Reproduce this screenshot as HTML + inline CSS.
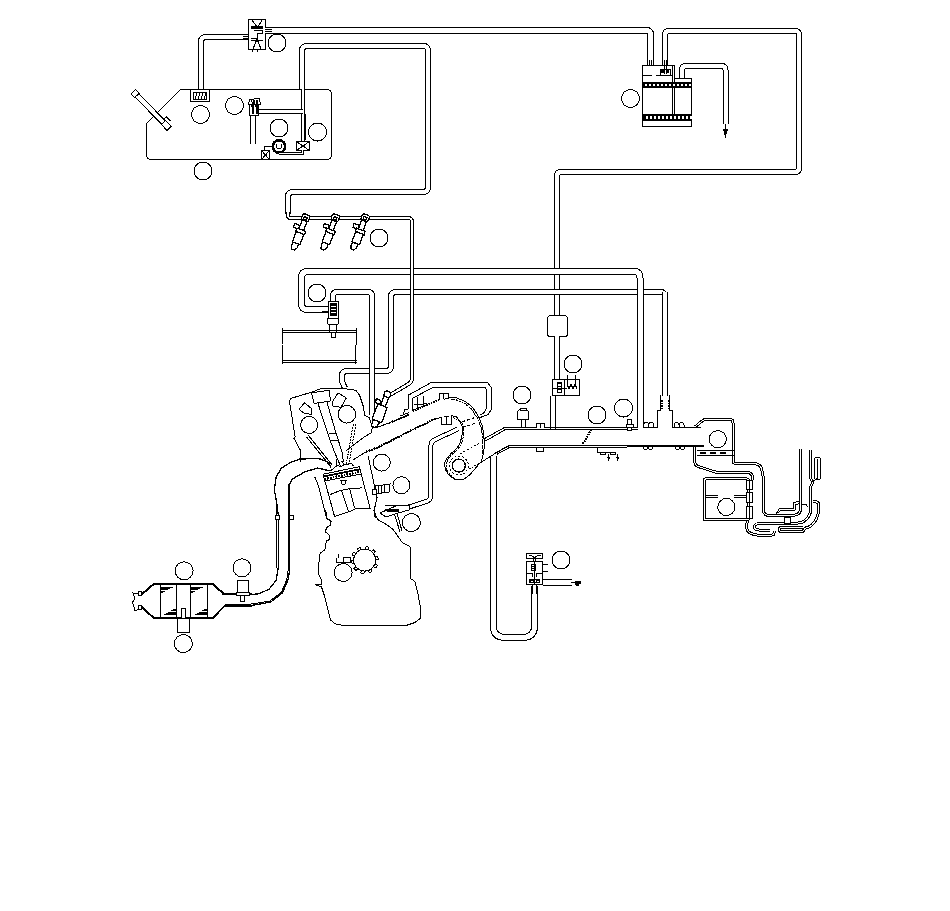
<!DOCTYPE html>
<html><head><meta charset="utf-8"><style>
html,body{margin:0;padding:0;background:#fff;width:950px;height:911px;overflow:hidden}
svg{display:block}
.k{fill:none;stroke:#000}
</style></head><body>
<svg shape-rendering="crispEdges" width="950" height="911" viewBox="0 0 950 911">
<path d="M180.5,89.5 L326.5,89.5 Q331.5,89.5 331.5,94.5 L331.5,154.5 Q331.5,159.5 326.5,159.5 L151.5,159.5 Q146.5,159.5 146.5,154.5 L146.5,123.5 L180.5,89.5 Z" fill="#fff" stroke="#000" stroke-width="1"/>
<g transform="translate(135.5,94) rotate(-44.5)"><rect x="-2.5" y="0" width="5" height="46" fill="#fff" stroke="#000"/><rect x="-3" y="-3" width="6" height="5" fill="#fff" stroke="#000"/><path d="M-3,40 h6 v8 h-6 z M3,38 h3 v6" fill="#fff" stroke="#000"/></g>
<path d="M201,90 L201.00,42.00 Q201,37 206.00,37.00 L248,37" fill="none" stroke="#000" stroke-width="6" stroke-linecap="butt"/>
<path d="M201,90 L201.00,42.00 Q201,37 206.00,37.00 L248,37" fill="none" stroke="#fff" stroke-width="4" stroke-linecap="butt"/>
<rect x="190.5" y="89.5" width="19" height="12" rx="0" fill="#fff" stroke="#000" stroke-width="1"/>
<rect x="193.5" y="92.5" width="13" height="7" rx="0" fill="#fff" stroke="#000" stroke-width="1"/>
<path d="M197,93 L195,99" class="k" stroke-width="1"/>
<path d="M200,93 L198,99" class="k" stroke-width="1"/>
<path d="M203,93 L201,99" class="k" stroke-width="1"/>
<path d="M206,93 L204,99" class="k" stroke-width="1"/>
<rect x="248.5" y="19.5" width="17" height="30" rx="0" fill="#fff" stroke="#000" stroke-width="1"/>
<path d="M252,20 L257,27 M262,20 L258,27 M253,49 L257,39 L261,49 M251,38 h6 v-5 h5 v-3 h-8" fill="none" stroke="#000" stroke-width="1"/>
<rect x="251" y="26" width="12" height="3" fill="#000"/>
<path d="M251,40.5 h12" fill="none" stroke="#000" stroke-width="1"/>
<path d="M252,49 v3 M257,49 v3" fill="none" stroke="#000" stroke-width="1"/>
<path d="M243,36.5 L248,36.5" class="k" stroke-width="1"/>
<path d="M243,38.5 L248,38.5" class="k" stroke-width="1"/>
<path d="M265,29.5 L272,29.5" class="k" stroke-width="1"/>
<path d="M265,31.5 L272,31.5" class="k" stroke-width="1"/>
<path d="M265,30.5 L646.50,30.50 Q650.5,30.5 650.50,34.50 L650.5,66" fill="none" stroke="#000" stroke-width="7" stroke-linecap="butt"/>
<path d="M265,30.5 L646.50,30.50 Q650.5,30.5 650.50,34.50 L650.5,66" fill="none" stroke="#fff" stroke-width="5" stroke-linecap="butt"/>
<path d="M265,29.5 L272,29.5" class="k" stroke-width="1"/>
<path d="M265,31.5 L272,31.5" class="k" stroke-width="1"/>
<path d="M302,89 L302.00,51.00 Q302,46 307.00,46.00 L423.00,46.00 Q428,46 428.00,51.00 L428.00,187.00 Q428,192 423.00,192.00 L293.00,192.00 Q288,192 288.00,197.00 L288,214" fill="none" stroke="#000" stroke-width="6" stroke-linecap="butt"/>
<path d="M302,89 L302.00,51.00 Q302,46 307.00,46.00 L423.00,46.00 Q428,46 428.00,51.00 L428.00,187.00 Q428,192 423.00,192.00 L293.00,192.00 Q288,192 288.00,197.00 L288,214" fill="none" stroke="#fff" stroke-width="4" stroke-linecap="butt"/>
<path d="M302.5,89 L302.5,141" fill="none" stroke="#000" stroke-width="4" stroke-linecap="butt"/>
<path d="M302.5,89 L302.5,141" fill="none" stroke="#fff" stroke-width="2" stroke-linecap="butt"/>
<path d="M256,111.5 L302.5,111.5" fill="none" stroke="#000" stroke-width="5" stroke-linecap="butt"/>
<path d="M256,111.5 L302.5,111.5" fill="none" stroke="#fff" stroke-width="3" stroke-linecap="butt"/>
<path d="M305.5,114 L305.5,140" class="k" stroke-width="1"/>
<g fill="#fff" stroke="#000"><path d="M248.5,104.5 L249.5,99.5 L259.5,98.5 L260.5,104.5 Z"/><rect x="249.5" y="104.5" width="9" height="11"/></g>
<path d="M251,100 l2,4 M254,100 v4 M257,100 v4 M251,106 h2 v8 M255,106 h2 v8" stroke="#000" fill="none" stroke-width="1.3"/>
<path d="M250.5,115 L250.5,144" class="k" stroke-width="1"/>
<path d="M255.5,115 L255.5,144" class="k" stroke-width="1"/>
<rect x="296.5" y="141.5" width="13" height="9" rx="0" fill="#fff" stroke="#000" stroke-width="1"/>
<path d="M296.5,141.5 L309.5,150.5" class="k" stroke-width="1"/>
<path d="M309.5,141.5 L296.5,150.5" class="k" stroke-width="1"/>
<rect x="261.5" y="150.5" width="8" height="9" rx="0" fill="#fff" stroke="#000" stroke-width="1"/>
<path d="M261.5,150.5 L269.5,159.5" class="k" stroke-width="1"/>
<path d="M269.5,150.5 L261.5,159.5" class="k" stroke-width="1"/>
<circle cx="279" cy="146.5" r="6.2" fill="#fff" stroke="#000" stroke-width="2.6"/>
<path d="M276.5,143.5 v3 a2.5,2.5 0 0 0 5,0 v-3" fill="none" stroke="#000"/>
<path d="M264.5,150 L264.5,146.5 L272,146.5" class="k" stroke-width="1"/>
<path d="M279,153 L302,153 L302,150" fill="none" stroke="#000" stroke-width="3" stroke-linecap="butt"/>
<path d="M279,153 L302,153 L302,150" fill="none" stroke="#fff" stroke-width="1" stroke-linecap="butt"/>
<circle cx="277" cy="43" r="9" fill="#fff" stroke="#000" stroke-width="1"/>
<circle cx="234.5" cy="105.5" r="9" fill="#fff" stroke="#000" stroke-width="1"/>
<circle cx="200.5" cy="114.5" r="9" fill="#fff" stroke="#000" stroke-width="1"/>
<circle cx="279" cy="128" r="9" fill="#fff" stroke="#000" stroke-width="1"/>
<circle cx="317.5" cy="132" r="9" fill="#fff" stroke="#000" stroke-width="1"/>
<circle cx="203" cy="171" r="9" fill="#fff" stroke="#000" stroke-width="1"/>
<path d="M665,66 L665.00,35.00 Q665,31 669.00,31.00 L795.00,31.00 Q799,31 799.00,35.00 L799.00,168.00 Q799,172 795.00,172.00 L561.00,172.00 Q557,172 557.00,176.00 L557,316" fill="none" stroke="#000" stroke-width="6" stroke-linecap="butt"/>
<path d="M665,66 L665.00,35.00 Q665,31 669.00,31.00 L795.00,31.00 Q799,31 799.00,35.00 L799.00,168.00 Q799,172 795.00,172.00 L561.00,172.00 Q557,172 557.00,176.00 L557,316" fill="none" stroke="#fff" stroke-width="4" stroke-linecap="butt"/>
<path d="M682,79 L682.00,70.00 Q682,66 686.00,66.00 L721.50,66.00 Q725.5,66 725.50,70.00 L725.5,124" fill="none" stroke="#000" stroke-width="6" stroke-linecap="butt"/>
<path d="M682,79 L682.00,70.00 Q682,66 686.00,66.00 L721.50,66.00 Q725.5,66 725.50,70.00 L725.5,124" fill="none" stroke="#fff" stroke-width="4" stroke-linecap="butt"/>
<path d="M725.5,124 L725.5,136" class="k" stroke-width="1"/>
<path d="M723.5,129.5 L727.5,129.5 L725.5,136 Z" fill="#000" stroke="#000" stroke-width="1"/>
<path d="M642.5,65.5 H674.5 V78.5 H691.5 V126.5 H642.5 Z" fill="#fff" stroke="#000" stroke-width="1"/>
<path d="M672.5,66 L672.5,114" class="k" stroke-width="1"/>
<path d="M674.5,78 L674.5,114" class="k" stroke-width="1"/>
<path d="M643,75.5 L652,75.5" class="k" stroke-width="1"/>
<path d="M656,75.5 L672,75.5" class="k" stroke-width="1"/>
<rect x="643" y="82" width="48" height="6" fill="#000"/>
<rect x="643" y="114" width="48" height="7" fill="#000"/>
<rect x="645" y="84" width="1.5" height="2" fill="#fff"/>
<rect x="646" y="116" width="1.5" height="3" fill="#fff"/>
<rect x="649" y="84" width="1.5" height="2" fill="#fff"/>
<rect x="650" y="116" width="1.5" height="3" fill="#fff"/>
<rect x="653" y="84" width="1.5" height="2" fill="#fff"/>
<rect x="654" y="116" width="1.5" height="3" fill="#fff"/>
<rect x="657" y="84" width="1.5" height="2" fill="#fff"/>
<rect x="658" y="116" width="1.5" height="3" fill="#fff"/>
<rect x="661" y="84" width="1.5" height="2" fill="#fff"/>
<rect x="662" y="116" width="1.5" height="3" fill="#fff"/>
<rect x="665" y="84" width="1.5" height="2" fill="#fff"/>
<rect x="666" y="116" width="1.5" height="3" fill="#fff"/>
<rect x="669" y="84" width="1.5" height="2" fill="#fff"/>
<rect x="670" y="116" width="1.5" height="3" fill="#fff"/>
<rect x="673" y="84" width="1.5" height="2" fill="#fff"/>
<rect x="674" y="116" width="1.5" height="3" fill="#fff"/>
<rect x="677" y="84" width="1.5" height="2" fill="#fff"/>
<rect x="678" y="116" width="1.5" height="3" fill="#fff"/>
<rect x="681" y="84" width="1.5" height="2" fill="#fff"/>
<rect x="682" y="116" width="1.5" height="3" fill="#fff"/>
<rect x="685" y="84" width="1.5" height="2" fill="#fff"/>
<rect x="686" y="116" width="1.5" height="3" fill="#fff"/>
<rect x="689" y="84" width="1.5" height="2" fill="#fff"/>
<rect x="690" y="116" width="1.5" height="3" fill="#fff"/>
<rect x="660" y="69" width="10" height="6" fill="#fff" stroke="#000"/>
<rect x="661" y="70" width="3" height="3" fill="#000"/><rect x="666" y="70" width="3" height="3" fill="#000"/>
<path d="M649.5,60 L649.5,66" class="k" stroke-width="1"/>
<path d="M651.5,60 L651.5,66" class="k" stroke-width="1"/>
<path d="M664.5,60 L664.5,74" class="k" stroke-width="1"/>
<path d="M666.5,60 L666.5,74" class="k" stroke-width="1"/>
<circle cx="630.5" cy="98.5" r="9" fill="#fff" stroke="#000" stroke-width="1"/>
<circle cx="379" cy="238" r="9" fill="#fff" stroke="#000" stroke-width="1"/>
<path d="M665,396 L665.00,297.00 Q665,292 660.00,292.00 L396.00,292.00 Q391,292 391.00,297.00 L391.00,366.00 Q391,371 386.00,371.00 L347.00,371.00 Q342,371 342.00,376.00 L342.00,378.65 Q342,382 343.50,385.00 L345,388" fill="none" stroke="#000" stroke-width="6" stroke-linecap="butt"/>
<path d="M665,396 L665.00,297.00 Q665,292 660.00,292.00 L396.00,292.00 Q391,292 391.00,297.00 L391.00,366.00 Q391,371 386.00,371.00 L347.00,371.00 Q342,371 342.00,376.00 L342.00,378.65 Q342,382 343.50,385.00 L345,388" fill="none" stroke="#fff" stroke-width="4" stroke-linecap="butt"/>
<path d="M333,302 L333.00,296.50 Q333,291.5 338.00,291.50 L367.00,291.50 Q372,291.5 372.00,296.50 L372,415" fill="none" stroke="#000" stroke-width="6" stroke-linecap="butt"/>
<path d="M333,302 L333.00,296.50 Q333,291.5 338.00,291.50 L367.00,291.50 Q372,291.5 372.00,296.50 L372,415" fill="none" stroke="#fff" stroke-width="4" stroke-linecap="butt"/>
<path d="M328,309.5 L307.50,309.50 Q301.5,309.5 301.50,303.50 L301.50,277.50 Q301.5,271.5 307.50,271.50 L634.00,271.50 Q640,271.5 640.00,277.50 L640,428" fill="none" stroke="#000" stroke-width="7" stroke-linecap="butt"/>
<path d="M328,309.5 L307.50,309.50 Q301.5,309.5 301.50,303.50 L301.50,277.50 Q301.5,271.5 307.50,271.50 L634.00,271.50 Q640,271.5 640.00,277.50 L640,428" fill="none" stroke="#fff" stroke-width="5" stroke-linecap="butt"/>
<path d="M288,212 L288.00,215.00 Q288,218 291.00,218.00 L408.00,218.00 Q412,218 412.00,222.00 L412.00,378.00 Q412,382 408.56,384.03 L390,395" fill="none" stroke="#000" stroke-width="4" stroke-linecap="butt"/>
<path d="M288,212 L288.00,215.00 Q288,218 291.00,218.00 L408.00,218.00 Q412,218 412.00,222.00 L412.00,378.00 Q412,382 408.56,384.03 L390,395" fill="none" stroke="#fff" stroke-width="2" stroke-linecap="butt"/>
<g transform="translate(305.8,217.5) rotate(20.5)" fill="#fff" stroke="#000" stroke-width="1.3"><rect x="-2.5" y="3" width="5" height="10"/><rect x="-3.8" y="-3" width="7.6" height="6.5" rx="2"/><rect x="-1.5" y="-0.5" width="3" height="3"/><path d="M-8.5,9.5 L-3,9.5 L-2.5,13.5 L-8,13.5 Z"/><path d="M-4.5,13 L4.5,13 L5,16.5 L-4.5,16.5 Z"/><rect x="-4" y="16.5" width="8" height="11"/><path d="M-3.5,27.5 h6 v4 l-2,3 h-3 l-1,-3 z"/></g>
<g transform="translate(335.5,217.5) rotate(20.5)" fill="#fff" stroke="#000" stroke-width="1.3"><rect x="-2.5" y="3" width="5" height="10"/><rect x="-3.8" y="-3" width="7.6" height="6.5" rx="2"/><rect x="-1.5" y="-0.5" width="3" height="3"/><path d="M-8.5,9.5 L-3,9.5 L-2.5,13.5 L-8,13.5 Z"/><path d="M-4.5,13 L4.5,13 L5,16.5 L-4.5,16.5 Z"/><rect x="-4" y="16.5" width="8" height="11"/><path d="M-3.5,27.5 h6 v4 l-2,3 h-3 l-1,-3 z"/></g>
<g transform="translate(365.3,217.5) rotate(20.5)" fill="#fff" stroke="#000" stroke-width="1.3"><rect x="-2.5" y="3" width="5" height="10"/><rect x="-3.8" y="-3" width="7.6" height="6.5" rx="2"/><rect x="-1.5" y="-0.5" width="3" height="3"/><path d="M-8.5,9.5 L-3,9.5 L-2.5,13.5 L-8,13.5 Z"/><path d="M-4.5,13 L4.5,13 L5,16.5 L-4.5,16.5 Z"/><rect x="-4" y="16.5" width="8" height="11"/><path d="M-3.5,27.5 h6 v4 l-2,3 h-3 l-1,-3 z"/></g>
<g fill="#fff" stroke="#000"><rect x="328.5" y="301.5" width="10" height="17"/><rect x="330.5" y="303.5" width="6" height="12" fill="#000"/><path d="M327.5,318.5 h11 v5 l-1,1 h-9 l-1,-1 z"/><rect x="329.5" y="324.5" width="7" height="8"/><rect x="331.5" y="332.5" width="4" height="5"/></g>
<rect x="331" y="306" width="5" height="1" fill="#fff"/>
<rect x="331" y="309" width="5" height="1" fill="#fff"/>
<rect x="331" y="312" width="5" height="1" fill="#fff"/>
<path d="M322,306.5 L328,306.5" class="k" stroke-width="1"/>
<path d="M322,311.5 L328,311.5" class="k" stroke-width="1"/>
<circle cx="317" cy="293" r="9" fill="#fff" stroke="#000" stroke-width="1"/>
<path d="M282.5,330.5 L356.5,330.5 M282.5,332.5 L356.5,332.5 M282.5,360.5 L356.5,360.5 M282.5,362.5 L356.5,362.5" fill="none" stroke="#000" stroke-width="1"/>
<path d="M282.5,328 L282,345 L283,352 L282,364 M356,328 L356.5,340 L355.5,350 L356,364" fill="none" stroke="#000" stroke-width="1"/>
<rect x="547.5" y="315.5" width="20" height="21" rx="3" fill="#fff" stroke="#000"/>
<path d="M557,336 L557,380" fill="none" stroke="#000" stroke-width="6" stroke-linecap="butt"/>
<path d="M557,336 L557,380" fill="none" stroke="#fff" stroke-width="4" stroke-linecap="butt"/>
<g fill="#fff" stroke="#000"><rect x="552.5" y="379.5" width="12" height="16"/><rect x="564.5" y="379.5" width="15" height="16"/></g>
<rect x="557" y="382" width="5" height="11" fill="#000"/>
<rect x="558" y="384" width="3" height="1.5" fill="#fff"/>
<rect x="558" y="387" width="3" height="1.5" fill="#fff"/>
<rect x="558" y="390" width="3" height="1.5" fill="#fff"/>
<path d="M567.5,375 v12 M575.5,375 v12 M567,384 l2,5 l2,-5 l2,5 l2,-5 l2,5 M553,388.5 h14" fill="none" stroke="#000" stroke-width="1"/>
<path d="M550.5,396 L550.5,429" class="k" stroke-width="1"/>
<path d="M555.5,396 L555.5,429" class="k" stroke-width="1"/>
<circle cx="573" cy="364" r="9" fill="#fff" stroke="#000" stroke-width="1"/>
<circle cx="522" cy="395" r="9" fill="#fff" stroke="#000" stroke-width="1"/>
<circle cx="597" cy="415" r="9" fill="#fff" stroke="#000" stroke-width="1"/>
<circle cx="623.5" cy="408" r="9" fill="#fff" stroke="#000" stroke-width="1"/>
<path d="M325.6,510.0 L327.0,518.2 L331.1,521.0 L330.4,525.1 L326.3,527.8 L325.6,532.0 L329.7,535.4 L329.7,539.5 L326.3,540.9 L324.9,549.8 L320.1,553.2 L318.7,564.9 L318.7,574.5 L321.5,580.0 L321.5,584.1 L315.3,584.8 L321.5,586.9 L324.2,595.1 L329.0,614.3 L330.4,619.8 L335.2,623.9 L342.1,625.3 L406.6,625.3 L414.8,622.6 L420.3,618.4 L420.3,606.1 L417.6,592.4 L414.8,581.4 L410.7,578.6 L410.7,553.9 L410.0,546.4 L402.5,542.9 L396.3,534.0 L392.9,529.2 L387.4,525.1 L377.8,519.6 L376.4,516.9 L373.6,510.0" fill="none" stroke="#000" stroke-width="1" stroke-linejoin="round"/>
<circle cx="364.7" cy="560.1" r="11" fill="none" stroke="#000"/>
<rect x="-1.5" y="-13.5" width="3" height="3" fill="#fff" stroke="#000" transform="translate(364.7,560.1) rotate(10.0)"/>
<rect x="-1.5" y="-13.5" width="3" height="3" fill="#fff" stroke="#000" transform="translate(364.7,560.1) rotate(46.0)"/>
<rect x="-1.5" y="-13.5" width="3" height="3" fill="#fff" stroke="#000" transform="translate(364.7,560.1) rotate(82.0)"/>
<rect x="-1.5" y="-13.5" width="3" height="3" fill="#fff" stroke="#000" transform="translate(364.7,560.1) rotate(118.0)"/>
<rect x="-1.5" y="-13.5" width="3" height="3" fill="#fff" stroke="#000" transform="translate(364.7,560.1) rotate(154.0)"/>
<rect x="-1.5" y="-13.5" width="3" height="3" fill="#fff" stroke="#000" transform="translate(364.7,560.1) rotate(190.0)"/>
<rect x="-1.5" y="-13.5" width="3" height="3" fill="#fff" stroke="#000" transform="translate(364.7,560.1) rotate(226.0)"/>
<rect x="-1.5" y="-13.5" width="3" height="3" fill="#fff" stroke="#000" transform="translate(364.7,560.1) rotate(262.0)"/>
<rect x="-1.5" y="-13.5" width="3" height="3" fill="#fff" stroke="#000" transform="translate(364.7,560.1) rotate(298.0)"/>
<rect x="-1.5" y="-13.5" width="3" height="3" fill="#fff" stroke="#000" transform="translate(364.7,560.1) rotate(334.0)"/>
<circle cx="364.7" cy="560.1" r="11" fill="#fff" stroke="#000"/>
<g fill="#fff" stroke="#000"><rect x="343.5" y="557.5" width="7" height="5"/><path d="M336.5,557.5 v5 h7 M338.5,554 v4"/></g>
<circle cx="343.2" cy="572.5" r="9" fill="#fff" stroke="#000" stroke-width="1"/>
<circle cx="411.4" cy="522.6" r="9" fill="#fff" stroke="#000" stroke-width="1"/>
<path d="M314.8,477.0 L318.2,485.2 L326.4,518.0 L327.8,519.4" fill="none" stroke="#000" stroke-width="1" stroke-linejoin="round"/>
<path d="M368.2,456.4 L374.3,485.2 L377.0,497.5 L374.3,509.8 L375.0,516.6 L378.4,519.4" fill="none" stroke="#000" stroke-width="1" stroke-linejoin="round"/>
<path d="M323.0,474.2 L359.3,466.7 L370.2,508.4 L356.5,508.4 L351.0,511.0 L334.6,516.6 Z" fill="#fff" stroke="#000" stroke-width="1" stroke-linejoin="round"/>
<path d="M323.7,476.5 L360.0,469.3" fill="none" stroke="#000" stroke-width="1.8" stroke-linejoin="round"/>
<path d="M324.5,479 L360.5,471.8" stroke="#000" stroke-width="2.2" stroke-dasharray="1.6,1.2" fill="none"/>
<path d="M324.8,481.0 L360.8,474.0" fill="none" stroke="#000" stroke-width="1" stroke-linejoin="round"/>
<path d="M330.5,471.0 L337.0,465.5 L341.0,466.5 L344.5,464.5 L351.5,463.5 L353.5,466.0" fill="none" stroke="#000" stroke-width="1" stroke-linejoin="round"/>
<path d="M337.0,465.5 L336.0,459.0" fill="none" stroke="#000" stroke-width="1" stroke-linejoin="round"/>
<path d="M344.5,464.5 L341.5,461.0" fill="none" stroke="#000" stroke-width="1" stroke-linejoin="round"/>
<path d="M329.8,494.7 L340.0,490.6 L349.7,488.6 L362.0,487.9" fill="none" stroke="#000" stroke-width="1" stroke-linejoin="round"/>
<path d="M341.5,490.6 L348.3,511.2" fill="none" stroke="#000" stroke-width="1" stroke-linejoin="round"/>
<path d="M349.7,488.6 L354.5,508.4" fill="none" stroke="#000" stroke-width="1" stroke-linejoin="round"/>
<path d="M341,480.5 h5 l-1,3.5 h-3 z" fill="#fff" stroke="#000"/>
<path d="M300.3,461.5 L300.8,450.9 L293.9,438.3 L295.2,437.0 L289.5,402.0 L290.5,398.5 L311.6,392.2 L321.7,388.4 L343.2,388.4 L355.8,390.3 L359.6,395.3 L363.4,406.7 L364.6,415.5 L369.2,417.6 L372.4,426.6 L371.3,432.9 L364.0,437.1 L351.3,446.6 L346.0,451.0" fill="none" stroke="#000" stroke-width="1" stroke-linejoin="round"/>
<path d="M298.9,409.2 L304.6,402.9 L311.6,408.6 L311.6,414.3 L304.6,413.6 Z" fill="none" stroke="#000" stroke-width="1" stroke-linejoin="round"/>
<path d="M332.4,402.0 L338.0,392.8 L346.3,398.0 L341.0,407.3 L333.0,406.0 Z" fill="none" stroke="#000" stroke-width="1" stroke-linejoin="round"/>
<path d="M311.6,392.8 L329.3,390.3 L330.5,401.0 L314.1,403.5 Z" fill="#fff" stroke="#000" stroke-width="1" stroke-linejoin="round"/>
<path d="M318.0,403.5 L330.0,440.0 L334.5,452.0 L340.5,466.0" fill="none" stroke="#000" stroke-width="1" stroke-linejoin="round"/>
<path d="M327.0,402.5 L336.0,433.0 L342.0,452.0 L343.5,462.0" fill="none" stroke="#000" stroke-width="1" stroke-linejoin="round"/>
<path d="M329.0,434.0 L336.0,433.0" fill="none" stroke="#000" stroke-width="1" stroke-linejoin="round"/>
<path d="M331.0,441.0 L338.0,440.0" fill="none" stroke="#000" stroke-width="1" stroke-linejoin="round"/>
<path d="M306.5,437 L331,467 M308.5,435.5 L332.5,465.5" stroke="#000" fill="none"/>
<path d="M355.8,424.4 L348.8,464.8 M353.3,424 L346.3,464.4" stroke="#000" fill="none" stroke-dasharray="2,1"/>
<circle cx="309.1" cy="425" r="8.5" fill="#fff" stroke="#000" stroke-width="1"/>
<circle cx="346.9" cy="414.3" r="8.8" fill="#fff" stroke="#000" stroke-width="1"/>
<path d="M293.9,461.6 L300.0,458.5 L318.0,458.0 L328.0,461.9 L331.2,467.4" fill="none" stroke="#000" stroke-width="1" stroke-linejoin="round"/>
<path d="M458.5,428.7 L434.63,439.81 Q431,441.5 430.97,445.50 L430.63,496.00 Q430.6,500 426.80,501.24 L410.80,506.46 Q407,507.7 403.00,507.70 L385,507.7" fill="none" stroke="#000" stroke-width="5" stroke-linecap="butt"/>
<path d="M458.5,428.7 L434.63,439.81 Q431,441.5 430.97,445.50 L430.63,496.00 Q430.6,500 426.80,501.24 L410.80,506.46 Q407,507.7 403.00,507.70 L385,507.7" fill="none" stroke="#fff" stroke-width="3" stroke-linecap="butt"/>
<path d="M462.2,421.8 L476,417.2 M462.8,427.5 L476,422.9" stroke="#000" stroke-dasharray="3,2" fill="none"/>
<path d="M352.4,460.3 L366.0,451.8 L379.7,446.6 L408.2,431.8 L436.9,418.3 L441.5,417.7" fill="none" stroke="#000" stroke-width="1" stroke-linejoin="round"/>
<path d="M366,451.8 L379.7,446.6 L408.2,431.8 L436.6,418.2" stroke="#000" stroke-width="2.2" fill="none" stroke-dasharray="1.5,1.2"/>
<path d="M441.5,417.5 C445.3,417.0 447.6,415.7 453.0,416.0 C458.4,416.3 454.9,415.6 457.6,418.3 C460.3,421.0 459.6,420.3 461.1,424.1 C462.6,427.9 462.2,424.8 462.2,429.8 C462.2,434.8 462.6,433.3 461.1,439.1 C459.6,444.9 461.1,442.1 457.6,447.1 C454.1,452.1 454.5,449.8 450.7,454.0 C446.9,458.2 448.0,455.9 446.1,459.8 C444.2,463.7 444.5,461.4 444.9,465.6 C445.3,469.8 444.5,468.3 447.2,472.5 C449.9,476.7 448.8,475.9 453.0,478.2 C457.2,480.5 455.3,479.8 459.9,479.4 C464.5,479.0 462.2,480.2 466.8,477.1 C471.4,474.0 469.5,474.8 473.7,470.2 C477.9,465.6 477.6,465.6 479.5,463.3" fill="none" stroke="#000" stroke-width="1"/>
<path d="M453.0,417.6 C454.5,418.4 454.4,417.6 457.6,419.9 C460.8,422.2 460.6,421.0 462.7,424.4 C464.8,427.8 463.8,425.1 463.8,430.1 C463.8,435.1 464.2,433.6 462.7,439.4 C461.2,445.2 462.7,442.4 459.2,447.4 C455.7,452.4 456.1,450.1 452.3,454.3 C448.5,458.5 449.6,456.2 447.7,460.1 C445.8,464.0 446.1,461.7 446.5,465.9 C446.9,470.1 446.1,468.6 448.8,472.8 C451.5,477.0 452.7,476.6 454.6,478.5" fill="none" stroke="#000" stroke-width="1" stroke-dasharray="2,0.8"/>
<path d="M441.5,416.6 v7.5 h5 v-7 M446.5,417 v7 h5.3 v-8" fill="#fff" stroke="#000"/>
<path d="M376.6,427.6 L389.2,422.9 L409.2,414.5" fill="none" stroke="#000" stroke-width="1" stroke-linejoin="round"/>
<path d="M389.2,422.9 L409.2,414.5" stroke="#000" stroke-width="2" fill="none" stroke-dasharray="1.5,1"/>
<path d="M400.0,416.0 L409.2,412.6" fill="none" stroke="#000" stroke-width="1" stroke-linejoin="round"/>
<path d="M400.0,418.0 L409.2,414.6" fill="none" stroke="#000" stroke-width="1" stroke-linejoin="round"/>
<path d="M412.7,411.4 L430,403.3 L439.2,399.9" stroke="#000" stroke-width="2" fill="none" stroke-dasharray="1.5,1"/>
<path d="M403.5,413.7 L404.6,409.7 L408.1,409.1 L408.1,395.3 L431.1,382.6 L487.6,382.6 L491.0,387.2 L491.0,410.3 L487.6,414.9 L479.5,417.7" fill="none" stroke="#000" stroke-width="1" stroke-linejoin="round"/>
<path d="M412.7,411.0 L412.7,398.2 L433.4,387.2 L485.3,387.2 L486.4,389.5 L486.4,408.0 L484.1,412.6 L479.5,415.4" fill="none" stroke="#000" stroke-width="1" stroke-linejoin="round"/>
<path d="M413.5,404 h10 M423.5,395.5 v8 h3 M413.5,410 L426,405 M417.5,397 v12" fill="none" stroke="#000"/>
<path d="M439.2,399.5 v-6.5 h9 v6" fill="#fff" stroke="#000"/><path d="M443.5,393 v6" stroke="#000"/>
<path d="M443.8,399.3 C446.5,398.7 446.4,397.6 451.8,397.6 C457.2,397.6 454.1,397.0 459.9,399.3 C465.7,401.6 463.7,400.1 469.1,404.5 C474.5,408.9 472.2,406.8 476.0,412.6 C479.8,418.4 478.3,416.1 480.6,421.8 C482.9,427.5 481.7,423.3 482.9,429.8 C484.1,436.3 483.9,433.7 484.1,441.4 C484.3,449.1 484.7,445.6 483.5,452.9 C482.3,460.2 481.6,459.8 480.6,463.3" fill="none" stroke="#000" stroke-width="1"/>
<path d="M450.6,399.1 C453.3,399.7 452.9,398.5 458.7,400.8 C464.5,403.1 462.5,401.6 467.9,406.0 C473.3,410.4 471.0,408.3 474.8,414.1 C478.6,419.9 477.1,417.6 479.4,423.3 C481.7,429.0 480.5,424.8 481.7,431.3 C482.9,437.8 482.7,435.2 482.9,442.9 C483.1,450.6 482.5,450.6 482.3,454.4" fill="none" stroke="#000" stroke-width="1" stroke-dasharray="2,0.8"/>
<circle cx="458.8" cy="465.6" r="6.5" fill="#fff" stroke="#000" stroke-width="1.3"/>
<circle cx="458.8" cy="465.6" r="9.5" fill="none" stroke="#000" stroke-dasharray="2,2"/>
<path d="M459.9,454 L480.6,442.5" stroke="#000" stroke-dasharray="2,2" fill="none"/>
<path d="M469.1,469 L479.5,463.3" stroke="#000" stroke-dasharray="2,1" fill="none"/>
<path d="M479.5,463.3 L495.2,453.4 L509,445.8" stroke="#000" fill="none"/>
<g transform="translate(388.5,391.5) rotate(21)" fill="#fff" stroke="#000" stroke-width="1.3"><rect x="-2.5" y="5" width="5" height="11"/><rect x="-3.2" y="0" width="6.4" height="6" rx="2"/><path d="M-9,11 h5 l1,4 h-5 z"/><path d="M-5.5,15.5 h10 l0.5,15 l-2,2 h-7 l-1.5,-2 z"/><path d="M-4,31.5 h6 v5 l-2,2 h-3 l-1,-2 z"/></g>
<path d="M372.4,426.6 L376.6,427.6" fill="none" stroke="#000" stroke-width="1" stroke-linejoin="round"/>
<g fill="#fff" stroke="#000"><path d="M375.5,486 L390,484 L389,492 L375.5,494 Z"/><rect x="372.5" y="489.5" width="4" height="5"/></g>
<path d="M378,486 v8 M381,485.5 v8 M384,485 v8" stroke="#000"/>
<g fill="#fff" stroke="#000"><path d="M380,513 L398,505 L409,505 L409,510 L398,513 L386,517 Z"/><path d="M394.5,514 L400,532 M397,513 L402,531" /></g>
<path d="M387,509 h12 v3 h-12 z" fill="#000"/>
<circle cx="381.8" cy="462.6" r="8.5" fill="#fff" stroke="#000" stroke-width="1"/>
<circle cx="401.4" cy="485.2" r="8.5" fill="#fff" stroke="#000" stroke-width="1"/>
<path d="M331.2,467.4 L327.8,461.9 L318.2,458.5 L301.4,459.0 L291.5,461.8 L281.5,468.1 L276.1,477.1 L274.3,489.8 L277.0,504.3 L278.3,515.2 L278.3,567.6 L276.1,580.3 L268.9,589.4 L258.0,593.9 L249.0,594.8 L222.0,594.8" fill="none" stroke="#000" stroke-width="1.3" stroke-linejoin="round"/>
<path d="M276.0,504.0 L276.8,515.2 L276.8,567.6" fill="none" stroke="#000" stroke-width="1" stroke-linejoin="round"/>
<path d="M329.8,470.8 L317.7,468.1 L305.1,471.7 L292.4,479.0 L289.7,484.4 L289.7,569.5 L287.9,580.3 L282.4,593.0 L270.7,602.0 L261.6,603.8 L249.0,605.7 L225.4,605.7" fill="none" stroke="#000" stroke-width="1.3" stroke-linejoin="round"/>
<path d="M288.5,484.0 L288.3,569.0 L286.7,580.0 L281.3,592.3 L270.0,601.0 L261.0,602.5 L249.0,604.3 L225.4,604.3" fill="none" stroke="#000" stroke-width="1" stroke-linejoin="round"/>
<g fill="#fff" stroke="#000"><rect x="275.5" y="515.5" width="4" height="4"/><rect x="289.5" y="515.5" width="4" height="4"/></g>
<path d="M141.7,594.3 L153.6,584.2 L212.9,584.2 L224.3,594.3 L251.6,594.3 M141.7,607 L153.6,617.8 L212.9,617.8 L224.3,606.2 L251.6,606.2" fill="none" stroke="#000" stroke-width="2"/>
<path d="M160,584.5 L160,617.5" class="k" stroke-width="1"/>
<path d="M176,584.5 L176,617.5" class="k" stroke-width="1"/>
<path d="M190,584.5 L190,617.5" class="k" stroke-width="1"/>
<path d="M207.5,584.5 L207.5,617.5" class="k" stroke-width="1"/>
<path d="M141.7,594.3 L133,593 L135,599 L132.5,602 L135,611 L141.7,607" fill="#fff" stroke="#000"/>
<rect x="138.5" y="591.5" width="3" height="4" fill="#fff" stroke="#000"/><rect x="138.5" y="605.5" width="3" height="4" fill="#fff" stroke="#000"/>
<line x1="160.5" y1="587.5" x2="172.5" y2="587.5" stroke="#000" stroke-width="1"/>
<line x1="160.5" y1="588.7" x2="170.1" y2="588.7" stroke="#000" stroke-width="1"/>
<line x1="160.5" y1="589.9" x2="167.7" y2="589.9" stroke="#000" stroke-width="1"/>
<line x1="160.5" y1="591.1" x2="165.3" y2="591.1" stroke="#000" stroke-width="1"/>
<line x1="160.5" y1="592.3" x2="162.9" y2="592.3" stroke="#000" stroke-width="1"/>
<line x1="190.5" y1="587.5" x2="202.5" y2="587.5" stroke="#000" stroke-width="1"/>
<line x1="190.5" y1="588.7" x2="200.1" y2="588.7" stroke="#000" stroke-width="1"/>
<line x1="190.5" y1="589.9" x2="197.7" y2="589.9" stroke="#000" stroke-width="1"/>
<line x1="190.5" y1="591.1" x2="195.3" y2="591.1" stroke="#000" stroke-width="1"/>
<line x1="190.5" y1="592.3" x2="192.9" y2="592.3" stroke="#000" stroke-width="1"/>
<line x1="163.5" y1="614.5" x2="175.5" y2="614.5" stroke="#000" stroke-width="1"/>
<line x1="165.9" y1="613.3" x2="175.5" y2="613.3" stroke="#000" stroke-width="1"/>
<line x1="168.3" y1="612.1" x2="175.5" y2="612.1" stroke="#000" stroke-width="1"/>
<line x1="170.7" y1="610.9" x2="175.5" y2="610.9" stroke="#000" stroke-width="1"/>
<line x1="173.1" y1="609.7" x2="175.5" y2="609.7" stroke="#000" stroke-width="1"/>
<line x1="194.5" y1="614.5" x2="206.5" y2="614.5" stroke="#000" stroke-width="1"/>
<line x1="196.9" y1="613.3" x2="206.5" y2="613.3" stroke="#000" stroke-width="1"/>
<line x1="199.3" y1="612.1" x2="206.5" y2="612.1" stroke="#000" stroke-width="1"/>
<line x1="201.7" y1="610.9" x2="206.5" y2="610.9" stroke="#000" stroke-width="1"/>
<line x1="204.1" y1="609.7" x2="206.5" y2="609.7" stroke="#000" stroke-width="1"/>
<g fill="#fff" stroke="#000"><rect x="181.5" y="608.5" width="4" height="10"/><rect x="177.5" y="618.5" width="12" height="14"/><rect x="237.5" y="580.5" width="11" height="12"/><rect x="236.5" y="592.5" width="13" height="3"/><rect x="240.5" y="595.5" width="4" height="6"/></g>
<circle cx="184.1" cy="570.8" r="9" fill="#fff" stroke="#000" stroke-width="1"/>
<circle cx="183.4" cy="643.6" r="9" fill="#fff" stroke="#000" stroke-width="1"/>
<circle cx="242" cy="567.8" r="9" fill="#fff" stroke="#000" stroke-width="1"/>
<path d="M493.3,456 L493.30,625.50 Q493.3,637.5 505.30,637.50 L522.60,637.50 Q534.6,637.5 534.60,625.50 L534.6,586" fill="none" stroke="#000" stroke-width="7" stroke-linecap="butt"/>
<path d="M493.3,456 L493.30,625.50 Q493.3,637.5 505.30,637.50 L522.60,637.50 Q534.6,637.5 534.60,625.50 L534.6,586" fill="none" stroke="#fff" stroke-width="5" stroke-linecap="butt"/>
<g fill="#fff" stroke="#000"><rect x="526.5" y="553.5" width="16" height="5" stroke-width="1.6"/><rect x="526.5" y="561.5" width="16" height="23"/><rect x="531.5" y="564.5" width="4" height="6"/></g>
<rect x="529" y="579" width="11" height="4" fill="#000"/><rect x="531" y="580.5" width="1.5" height="1.5" fill="#fff"/><rect x="534" y="580" width="1.5" height="2" fill="#fff"/><rect x="537" y="580.5" width="1.5" height="1.5" fill="#fff"/>
<path d="M528.5,555.5 h3 l2,1.5 h2 l2,-1.5 h3 M533.5,558.5 v3 M535.5,558.5 v3 M534.5,561.5 V585 M542.5,564.5 h5 M542.5,571.5 h5 M527,573.5 h5.5 v3.5 M542,573.5 h-5.5 v3.5 M532,566.5 h3 M532,568.5 h3 M542.5,581.5 h6 M542.5,583.5 h6" stroke="#000" fill="none"/>
<path d="M532.5,585 v9 M536.5,585 v9" stroke="#000" fill="none"/>
<path d="M542.5,582.3 L572,582.3" fill="none" stroke="#000" stroke-width="7" stroke-linecap="butt"/>
<path d="M542.5,582.3 L572,582.3" fill="none" stroke="#fff" stroke-width="5" stroke-linecap="butt"/>
<path d="M571,582.5 h10 M575,581 h5 v2 h-2 v2 h-2 z" stroke="#000" fill="#000"/>
<circle cx="561" cy="560" r="9" fill="#fff" stroke="#000" stroke-width="1"/>
<path d="M484.5,438.5 L504.5,427.5 L638,427.5 M485.5,441 L505.5,429.5 L638,429.5 M495,453.1 L508.9,445.5 L626.5,445.5 M497,454.3 L509.5,447.5 L626.5,447.5 M626.5,446 L703.6,446" fill="none" stroke="#000"/>
<path d="M626.5,446 L688,446" stroke="#000" stroke-width="1.8"/>
<g fill="#fff" stroke="#000"><path d="M517.5,419.5 v-8 l2,-2 h7 l2,2 v8 z"/><rect x="520.5" y="408.5" width="6" height="2"/><path d="M521,420 v7 M525,420 v7"/><path d="M536,427.5 v-4 h8 v4" /><path d="M540,423.5 v4"/><rect x="627.5" y="419.5" width="4" height="11"/><rect x="626" y="424.5" width="7" height="3"/></g>
<g fill="#fff" stroke="#000"><path d="M536.5,447.5 v4 h7 v-4"/><path d="M597.5,447.5 v5 h18"/><path d="M600,452.5 v2 h5 v-2 M610,452.5 v2 h5 v-2"/></g>
<path d="M608.8,454 v7 M617.7,454 v7" stroke="#000"/><path d="M607,457 l1.8,4 l1.8,-4 z M616,457 l1.8,4 l1.8,-4 z" fill="#000"/>
<path d="M591.5,429.7 L582.2,444.9" stroke="#000" stroke-width="2.2" stroke-dasharray="1.5,1"/>
<path d="M643,427.5 H657.5 M672.5,427.5 H701" fill="none" stroke="#000"/>
<path d="M643.5,427 v-2 a2.5,2.5 0 0 1 5,0 v2 M648.5,425 a2.5,2.5 0 0 1 5,0 v2 M674,427 v-2 a2.5,2.5 0 0 1 5,0 v2 M679,425 a2.5,2.5 0 0 1 5,0 v2" fill="none" stroke="#000"/>
<path d="M657.5,427.5 V410.5 H660.5 V395 M672.5,427.5 V410.5 H669.5 V395" fill="none" stroke="#000"/>
<path d="M665,292 L665,396" fill="none" stroke="#000" stroke-width="6" stroke-linecap="butt"/>
<path d="M665,292 L665,396" fill="none" stroke="#fff" stroke-width="4" stroke-linecap="butt"/>
<path d="M661.5,400 v10 M668.5,400 v10" stroke="#000" stroke-width="2" stroke-dasharray="1.5,1"/>
<path d="M694.7,426.6 L703.6,418.4 L720,418.4 M696,427 L704.8,420.3 L720,420.3" fill="none" stroke="#000"/>
<path d="M643,447 a2.5,2.5 0 0 0 5,0 a2.5,2.5 0 0 0 5,0 M675,447 a2.5,2.5 0 0 0 5,0 a2.5,2.5 0 0 0 5,0" fill="none" stroke="#000"/>
<path d="M688.4,445.5 L703.6,445.5 M694.1,447.4 L694.1,464.5 L697.3,467 L709.9,469.5 M697.3,450.6 L734,450.6 M697.3,455.6 L734,455.6" fill="none" stroke="#000"/>
<circle cx="717.8" cy="439.2" r="8.6" fill="#fff" stroke="#000" stroke-width="1"/>
<path d="M695,427 L701.34,421.47 Q703.6,419.5 706.60,419.50 L730.00,419.50 Q733,419.5 733.00,422.50 L733.00,460.50 Q733,463.5 736.00,463.50 L753.20,463.50 Q756,463.5 758.50,464.75 L758.50,464.75 Q761,466 761.57,468.74 L762.89,475.06 Q763.5,478 763.50,481.00 L763.50,510.85 Q763.5,513 765.25,514.25 L765.25,514.25 Q767,515.5 769.15,515.50 L792.00,515.50 Q795,515.5 797.63,514.06 L797.87,513.94 Q800.5,512.5 800.50,509.50 L800.5,449" fill="none" stroke="#000" stroke-width="3" stroke-linecap="butt"/>
<path d="M695,427 L701.34,421.47 Q703.6,419.5 706.60,419.50 L730.00,419.50 Q733,419.5 733.00,422.50 L733.00,460.50 Q733,463.5 736.00,463.50 L753.20,463.50 Q756,463.5 758.50,464.75 L758.50,464.75 Q761,466 761.57,468.74 L762.89,475.06 Q763.5,478 763.50,481.00 L763.50,510.85 Q763.5,513 765.25,514.25 L765.25,514.25 Q767,515.5 769.15,515.50 L792.00,515.50 Q795,515.5 797.63,514.06 L797.87,513.94 Q800.5,512.5 800.50,509.50 L800.5,449" fill="none" stroke="#fff" stroke-width="1" stroke-linecap="butt"/>
<path d="M810.5,450 L810.50,476.40 Q810.5,478.4 811.48,480.14 L811.82,480.76 Q812.8,482.5 811.84,484.25 L811.46,484.95 Q810.5,486.7 810.50,488.70 L810.50,510.80 Q810.5,512.8 809.53,514.55 L808.57,516.25 Q807.6,518 806.09,519.31 L803.91,521.19 Q802.4,522.5 800.41,522.74 L795.99,523.26 Q794,523.5 792.00,523.50 L757,523.5" fill="none" stroke="#000" stroke-width="3" stroke-linecap="butt"/>
<path d="M810.5,450 L810.50,476.40 Q810.5,478.4 811.48,480.14 L811.82,480.76 Q812.8,482.5 811.84,484.25 L811.46,484.95 Q810.5,486.7 810.50,488.70 L810.50,510.80 Q810.5,512.8 809.53,514.55 L808.57,516.25 Q807.6,518 806.09,519.31 L803.91,521.19 Q802.4,522.5 800.41,522.74 L795.99,523.26 Q794,523.5 792.00,523.50 L757,523.5" fill="none" stroke="#fff" stroke-width="1" stroke-linecap="butt"/>
<path d="M748,520 L746.63,524.10 Q746,526 746.63,527.90 L747.37,530.10 Q748,532 749.84,532.79 L753.16,534.21 Q755,535 757.00,535.00 L772.00,535.00 Q774,535 774.00,533.00 L774,531" fill="none" stroke="#000" stroke-width="3" stroke-linecap="butt"/>
<path d="M748,520 L746.63,524.10 Q746,526 746.63,527.90 L747.37,530.10 Q748,532 749.84,532.79 L753.16,534.21 Q755,535 757.00,535.00 L772.00,535.00 Q774,535 774.00,533.00 L774,531" fill="none" stroke="#fff" stroke-width="1" stroke-linecap="butt"/>
<path d="M757,523.5 L754.77,525.36 Q754,526 754.32,526.95 L754.68,528.05 Q755,529 755.95,529.32 L757.05,529.68 Q758,530 759.00,530.00 L770,530" fill="none" stroke="#000" stroke-width="3" stroke-linecap="butt"/>
<path d="M757,523.5 L754.77,525.36 Q754,526 754.32,526.95 L754.68,528.05 Q755,529 755.95,529.32 L757.05,529.68 Q758,530 759.00,530.00 L770,530" fill="none" stroke="#fff" stroke-width="1" stroke-linecap="butt"/>
<path d="M694.8,447 L694.80,462.61 Q694.8,464.5 696.40,465.50 L696.40,465.50 Q698,466.5 699.80,467.07 L715.09,471.90 Q717,472.5 719.00,472.50 L748.00,472.50 Q750,472.5 751.25,474.06 L751.55,474.44 Q752.8,476 752.80,478.00 L752.8,480" fill="none" stroke="#000" stroke-width="3" stroke-linecap="butt"/>
<path d="M694.8,447 L694.80,462.61 Q694.8,464.5 696.40,465.50 L696.40,465.50 Q698,466.5 699.80,467.07 L715.09,471.90 Q717,472.5 719.00,472.50 L748.00,472.50 Q750,472.5 751.25,474.06 L751.55,474.44 Q752.8,476 752.80,478.00 L752.8,480" fill="none" stroke="#fff" stroke-width="1" stroke-linecap="butt"/>
<path d="M697.3,450.6 L734,450.6 M697.3,455.6 L734,455.6" fill="none" stroke="#000"/>
<path d="M700,453 h6 M710,453 h6 M720,453 h6" stroke="#000" stroke-width="1.5"/>
<rect x="704" y="478.9" width="44.5" height="41" rx="2" fill="#fff" stroke="#000" stroke-width="3"/>
<rect x="704" y="478.9" width="44.5" height="41" rx="2" fill="none" stroke="#fff" stroke-width="1"/>
<path d="M705.7,496.3 H717.8 M733.5,496.3 H746.3" stroke="#000" stroke-width="3"/><path d="M705.7,496.3 H717.8 M733.5,496.3 H746.3" stroke="#fff" stroke-width="1"/>
<rect x="746" y="480" width="6.5" height="9.199999999999989" fill="#fff" stroke="#000"/>
<path d="M749.5,480 V489.2" stroke="#000"/>
<rect x="746" y="492.7" width="6.5" height="10.0" fill="#fff" stroke="#000"/>
<path d="M749.5,492.7 V502.7" stroke="#000"/>
<rect x="746" y="506.3" width="6.5" height="12.099999999999966" fill="#fff" stroke="#000"/>
<path d="M749.5,506.3 V518.4" stroke="#000"/>
<circle cx="726.4" cy="507" r="8.6" fill="#fff" stroke="#000" stroke-width="1"/>
<path d="M812.8,501.3 L816.54,502.02 Q818.5,502.4 818.50,504.40 L818.50,510.80 Q818.5,512.8 817.83,514.68 L816.57,518.22 Q815.9,520.1 814.61,521.63 L811.99,524.77 Q810.7,526.3 808.80,526.93 L805.99,527.87 Q804.4,528.4 803.90,530.00 L803.90,530.00 Q803.4,531.6 801.72,531.60 L781.40,531.60 Q779.4,531.6 779.40,529.60 L779.40,529.50 Q779.4,527.5 781.40,527.50 L803,527.5" fill="none" stroke="#000" stroke-width="3" stroke-linecap="butt"/>
<path d="M812.8,501.3 L816.54,502.02 Q818.5,502.4 818.50,504.40 L818.50,510.80 Q818.5,512.8 817.83,514.68 L816.57,518.22 Q815.9,520.1 814.61,521.63 L811.99,524.77 Q810.7,526.3 808.80,526.93 L805.99,527.87 Q804.4,528.4 803.90,530.00 L803.90,530.00 Q803.4,531.6 801.72,531.60 L781.40,531.60 Q779.4,531.6 779.40,529.60 L779.40,529.50 Q779.4,527.5 781.40,527.50 L803,527.5" fill="none" stroke="#fff" stroke-width="1" stroke-linecap="butt"/>
<path d="M776.3,513.8 L779.4,508.6 L793,508.6 L794,502.4 L799.2,501.3 M778,512.5 L781,510.5 L795,510.5 L796,504.5 L800,503.5" fill="none" stroke="#000"/>
<rect x="784.6" y="517" width="6.3" height="6.2" fill="#fff" stroke="#000"/>
<rect x="814.4" y="457.5" width="6.2" height="22" rx="2" fill="#fff" stroke="#000"/><path d="M817.5,459 v19" stroke="#000"/>
<path d="M812,482 L818,478" stroke="#000"/>
<path d="M801.3,507 a3,3 0 1 1 6,0" fill="none" stroke="#000"/>
</svg>
</body></html>
